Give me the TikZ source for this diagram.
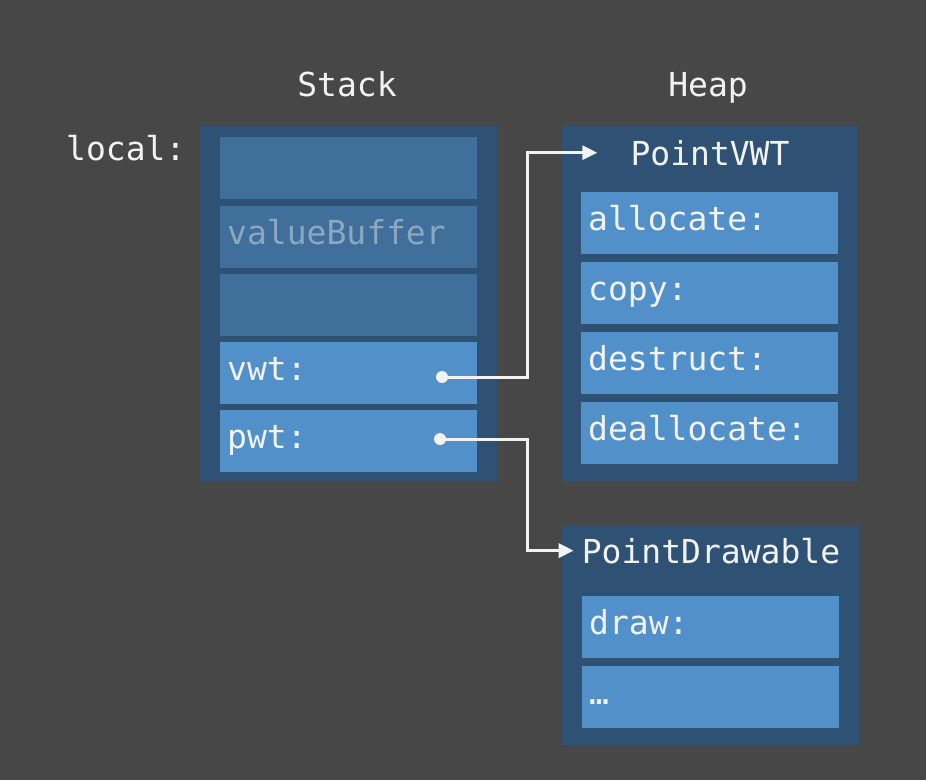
\documentclass[tikz,border=0pt]{standalone}
\usepackage{fontspec}
\setmonofont{DejaVu Sans Mono}
\usetikzlibrary{arrows.meta}
\definecolor{bgcol}{HTML}{474747}
\definecolor{framecol}{HTML}{2F5274}
\definecolor{dimcol}{HTML}{416F9B}
\definecolor{cellcol}{HTML}{5290CA}
\definecolor{fgcol}{HTML}{F2F2F2}
\definecolor{fadecol}{HTML}{8CA7C0}
\tikzset{
	frame/.style={rectangle, fill=framecol, anchor=north west, inner sep=0pt},
	cell/.style={rectangle, fill=cellcol, anchor=north west, minimum width=257pt, minimum height=62pt,
		text width=243pt, inner xsep=7pt, inner ysep=0pt, align=left, text height=22pt, text depth=8pt, text=fgcol},
	dimcell/.style={cell, fill=dimcol},
	ptr/.style={draw=fgcol, line width=3pt, ->},
}
\begin{document}
\begin{tikzpicture}[x=1pt,y=-1pt,>={Triangle[length=15pt,width=14pt]}, font=\ttfamily\fontsize{33}{40}\selectfont, line join=miter, line cap=butt]
	\fill[bgcol] (0,0) rectangle (926,780);
	\def\bx{527} % x of the bends
	% titles
	\node[anchor=base, text=fgcol] (stacklbl) at (347,96) {Stack};
	\node[anchor=base, text=fgcol] (heaplbl) at (708,96) {Heap};
	\node[anchor=base west, text=fgcol, inner sep=0pt] (local) at (66,160) {local:};
	% stack
	\node[frame, minimum width=297pt, minimum height=355pt] (stack) at (200,126) {};
	\node[dimcell] (s1) at (220,137) {};
	\node[dimcell, text=fadecol] (s2) at (220,206) {valueBuffer};
	\node[dimcell] (s3) at (220,274) {};
	\node[cell] (vwt) at (220,342) {vwt:};
	\node[cell] (pwt) at (220,410) {pwt:};
	% heap: value witness table
	\node[frame, minimum width=296pt, minimum height=356pt] (vwtbox) at (562,126) {};
	\node[anchor=base, text=fgcol, inner sep=0pt] (vwttitle) at (710,165) {PointVWT};
	\foreach \y/\t [count=\i] in {192/allocate:,262/copy:,332/destruct:,402/deallocate:}{
		\node[cell] (vw\i) at (581,\y) {\t};
	}
	% heap: protocol witness table
	\node[frame, minimum width=297pt, minimum height=220pt] (pwtbox) at (562,525) {};
	\node[anchor=base, text=fgcol, inner sep=0pt] (pwttitle) at (711,563) {PointDrawable};
	\foreach \y/\t [count=\i] in {596/draw:,666/\dots}{
		\node[cell] (pw\i) at (582,\y) {\t};
	}
	% pointers
	\coordinate (vwtdot) at (442,377);
	\coordinate (pwtdot) at (440,439);
	\coordinate (bend) at (\bx,0);
	\draw[ptr, shorten >=33pt] (vwtdot) -- (vwtdot -| bend) |- (vwttitle.west);
	\draw[ptr, shorten >=8pt] (pwtdot) -- (pwtdot -| bend) |- (pwttitle.west);
	\fill[fgcol] (vwtdot) circle (6pt) (pwtdot) circle (6pt);
\end{tikzpicture}
\end{document}
